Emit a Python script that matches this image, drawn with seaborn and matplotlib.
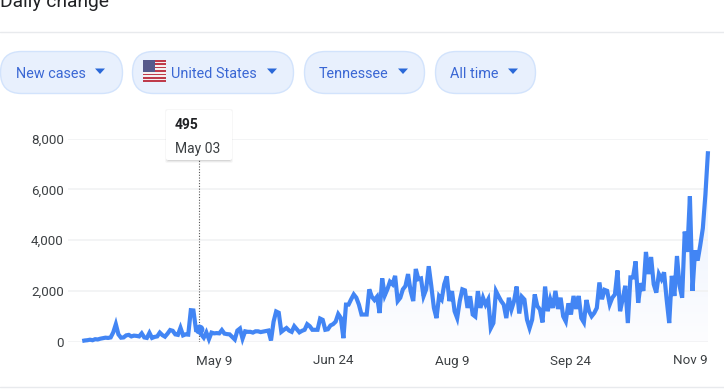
# Daily change chart, new cases in Tennessee
import pandas as pd
import numpy as np
import matplotlib.pyplot as plt
import seaborn as sns
from matplotlib.colors import LinearSegmentedColormap
from matplotlib.patches import FancyBboxPatch, Polygon, Rectangle

# One value per day starting Mar 19
cases = [40, 60, 70, 90, 70, 110, 100, 130, 150, 170, 160, 180, 380, 700, 300, 170,
         180, 260, 280, 220, 250, 240, 220, 340, 180, 160, 360, 160, 200, 220, 370, 270,
         210, 330, 470, 440, 300, 280, 560, 260, 300, 290, 1250, 1240, 480, 495,
         300, 170, 380, 110, 370, 340, 350, 340, 470, 330, 310, 300, 200, 100, 450, 530,
         130, 420, 400, 400, 370, 420, 420, 390, 410, 430, 450, 60, 800, 1200, 1150, 400,
         480, 550, 450, 400, 620, 500, 380, 440, 480, 700, 620, 480, 480, 480, 920, 870,
         480, 500, 650, 700, 800, 1100, 950, 150, 1470, 1470, 1680, 1870, 1740, 1470, 1080,
         1080, 1080, 2070, 1780, 1650, 1780, 1140, 2500, 1830, 2070, 2370, 2270, 2600,
         1610, 1740, 2070, 2200, 2670, 2000, 1610, 2870, 2470, 2500, 1800, 2070, 2980,
         2200, 1340, 940, 1800, 1670, 2270, 2580, 1610, 2000, 1210, 940, 1610, 2070, 2030,
         1340, 1800, 1080, 1000, 2000, 1340, 1740, 1470, 1670, 545, 745, 2000, 1800, 1610,
         1470, 940, 1740, 1280, 1610, 2180, 1120, 1780, 1670, 880, 545, 880, 1870, 1410,
         1280, 770, 2180, 1210, 1680, 1340, 2010, 1300, 1740, 1010, 810, 1520, 1080, 1810,
         1300, 1810, 940, 770, 1650, 1210, 1010, 1140, 1340, 2340, 1680, 2050, 2010, 1480,
         1740, 1870, 2810, 1210, 1680, 2210, 745, 2540, 2540, 3170, 1540, 2310, 2010, 3540,
         2670, 3340, 2270, 1940, 2670, 2470, 2740, 1680, 745, 2600, 1810, 3380, 2210, 1740,
         4340, 3540, 5730, 2010, 3600, 3200, 3800, 4470, 5800, 7500]
y_ticks = [0, 2000, 4000, 6000, 8000]
y_labels = ['0', '2,000', '4,000', '6,000', '8,000']
x_ticks = ['2020-05-09', '2020-06-24', '2020-08-09', '2020-09-24', '2020-11-09']
x_labels = ['May 9', 'Jun 24', 'Aug 9', 'Sep 24', 'Nov 9']
pills = ['New cases', 'United States', 'Tennessee', 'All time']
hover_date = '2020-05-03'
hover_value = 495

dates = pd.date_range('2020-03-19', periods=len(cases))
df = pd.DataFrame({'date': dates, 'cases': cases})

sns.set_theme(style='white')
plt.rcParams['font.family'] = ['Roboto', 'DejaVu Sans']

W, H = 724, 392
fig = plt.figure(figsize=(W / 100, H / 100), dpi=100)
ax = fig.add_axes([68 / W, (H - 342) / H, 640 / W, 203.5 / H])

# Pale gradient under the line
fill = ax.fill_between(df['date'], df['cases'], 0, color='none')
x0 = df['date'].iloc[0] - pd.Timedelta(days=5.5)
x1 = df['date'].iloc[-1]
ax.set_xlim(x0, x1)
ax.set_ylim(0, 8000)
cmap = LinearSegmentedColormap.from_list('fade', ['#fdfdff', '#e6effe'])
im = ax.imshow(np.linspace(0, 1, 100).reshape(-1, 1), cmap=cmap, aspect='auto', origin='lower',
               extent=[ax.get_xlim()[0], ax.get_xlim()[1], 0, 8000], zorder=0.5)
im.set_clip_path(fill.get_paths()[0], transform=ax.transData)

sns.lineplot(data=df, x='date', y='cases', ax=ax, color='#4285f4', linewidth=3.0, clip_on=False, zorder=3,
             solid_joinstyle='miter', solid_capstyle='butt')
ax.set_xlim(x0, x1)
ax.set_ylim(0, 8000)

# Hover guide and point
hover = pd.Timestamp(hover_date)
ax.axvline(hover, color='#555555', linewidth=0.8, linestyle=(0, (1, 1.5)), zorder=2.5, ymin=0, ymax=0.9)
sns.scatterplot(x=[hover], y=[hover_value], ax=ax, color='#4285f4', s=50, linewidth=0, zorder=4)

ax.set_axisbelow('line')
ax.set_xlabel('')
ax.set_ylabel('')
ax.set_yticks(y_ticks, y_labels)
ax.set_xticks(pd.to_datetime(x_ticks), x_labels)
ax.yaxis.grid(True, color='#f1f2f3', linewidth=1.2)
ax.tick_params(axis='y', length=0, pad=3, labelsize=9.6, labelcolor='#3c4043')
ax.tick_params(axis='x', length=5.5, width=1.2, color='#eeeeee', pad=3.5, labelsize=9.6, labelcolor='#3c4043')
sns.despine(ax=ax, left=True, right=True, top=True, bottom=True)

# Page furniture in pixel coordinates
ov = fig.add_axes([0, 0, 1, 1], zorder=5)
ov.set_xlim(0, W)
ov.set_ylim(H, 0)
ov.axis('off')
ov.patch.set_alpha(0)

ov.text(0.5, 6.5, 'Daily change', fontsize=13.9, color='#202124', va='baseline', ha='left')
ov.plot([0, W], [31.5, 31.5], color='#e8eaed', lw=1)
ov.plot([0, W], [386.5, 386.5], color='#e8eaed', lw=1)

spans = [(0.5, 122.5, 15.7, 95), (132.5, 293.5, 171, 267), (304.5, 424.5, 319, 398), (435.5, 535.5, 450, 508)]
for name, (left, right, text_x, caret_x) in zip(pills, spans):
    ov.add_patch(FancyBboxPatch((left + 21, 51.5 + 21), right - left - 42, 0, boxstyle='round,pad=21',
                                fc='#e8f0fd', ec='#d2e3fc', lw=1))
    ov.text(text_x, 72, name, fontsize=10.4, color='#3a67d4', va='center_baseline', ha='left')
    ov.add_patch(Polygon([(caret_x, 68.5), (caret_x + 10, 68.5), (caret_x + 5, 74)], fc='#2a68d8', ec='none'))

# Flag
for i in range(13):
    ov.add_patch(Rectangle((143, 60 + i * 22 / 13), 22.5, 22 / 13, fc='#bf3b4b' if i % 2 == 0 else '#f4f0f0', ec='none'))
ov.add_patch(Rectangle((143, 60), 11.5, 12, fc='#565a8c', ec='none'))

# Tooltip with soft shadow
for grow, alpha in [(3, 0.03), (2, 0.05), (1, 0.08)]:
    ov.add_patch(FancyBboxPatch((166 + 2 - grow, 112 - grow), 62 + 2 * grow, 48 + 2 * grow, boxstyle='round,pad=0,rounding_size=2',
                                fc='black', ec='none', alpha=alpha))
ov.add_patch(FancyBboxPatch((166, 110), 66, 50, boxstyle='round,pad=0,rounding_size=2', fc='white', ec='none'))
ov.text(175, 123.5, str(hover_value), fontsize=10, fontweight='bold', color='#202124', va='center_baseline')
ov.text(175, 147, 'May 03', fontsize=10, color='#3c4043', va='center_baseline')

fig.savefig('out.png', dpi=100)
